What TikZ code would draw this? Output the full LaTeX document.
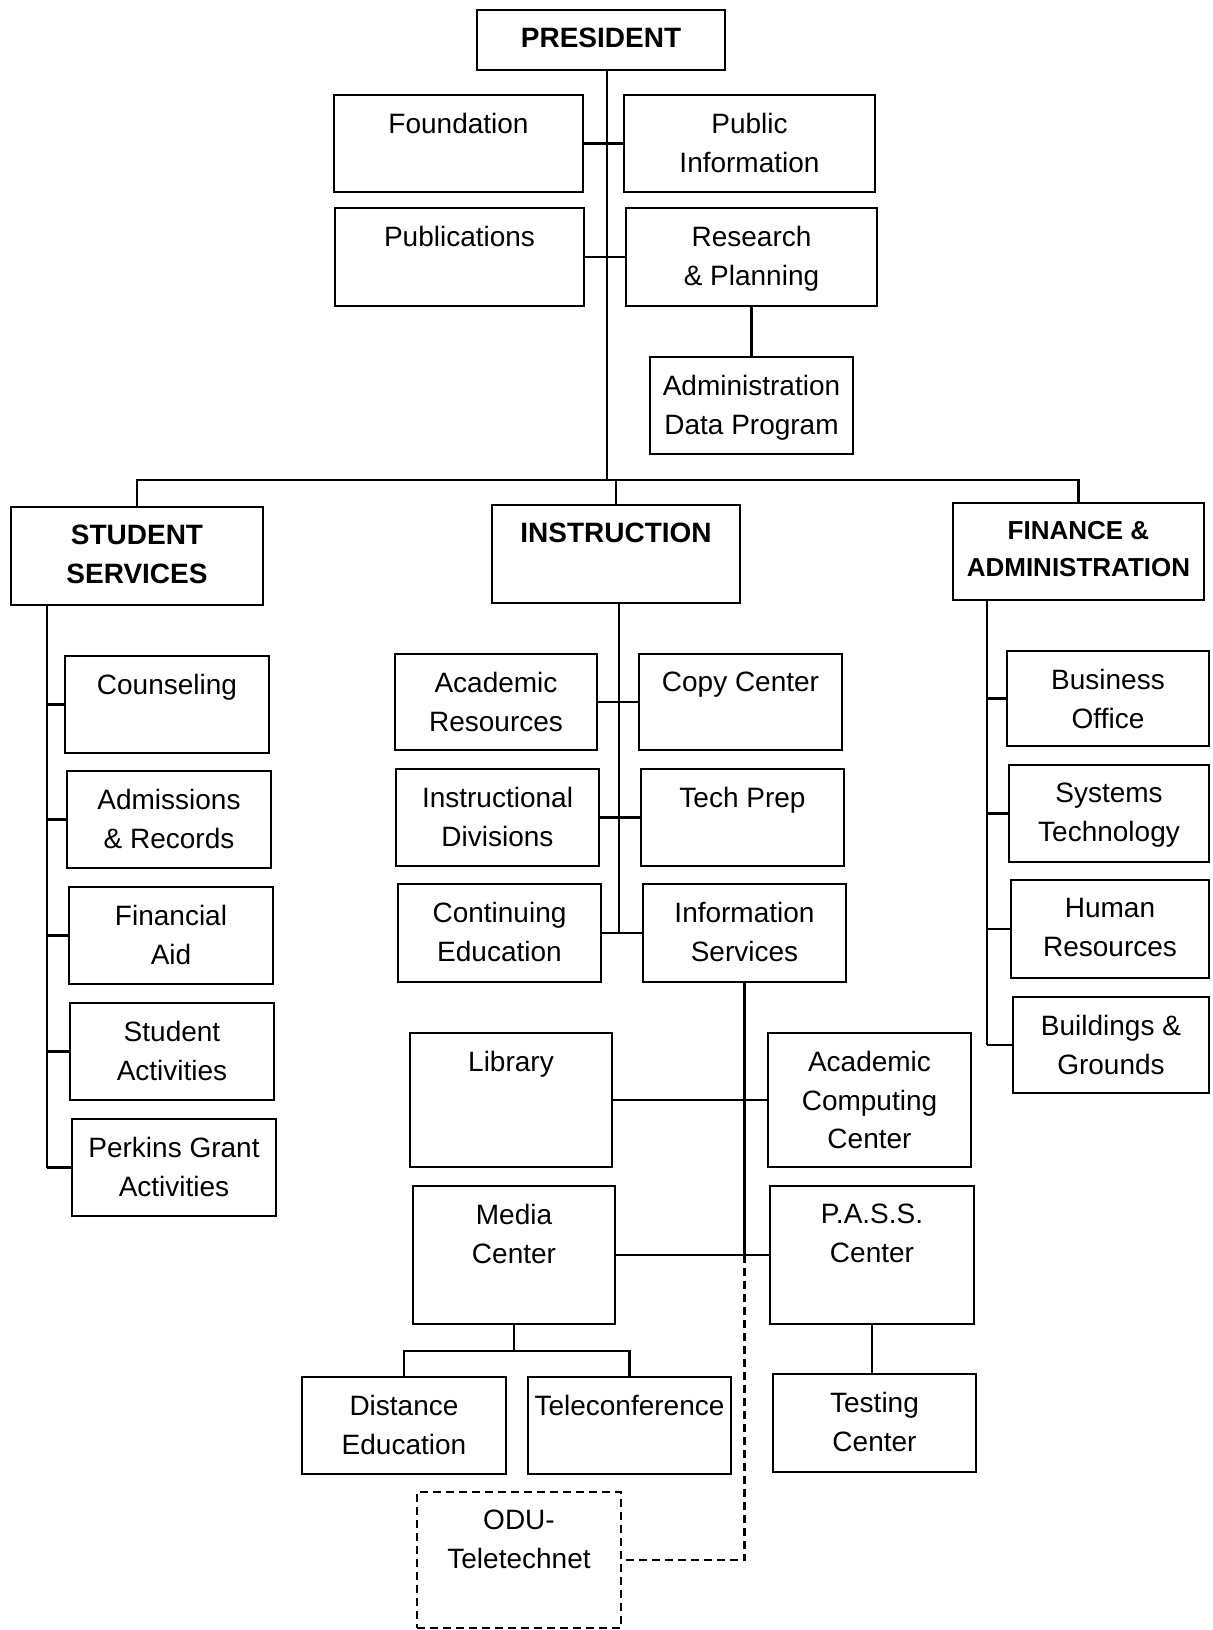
\documentclass[tikz,border=0pt]{standalone}
\usepackage{fontspec}
\setmainfont{Liberation Sans}
\usetikzlibrary{fit}
\begin{document}
\begin{tikzpicture}[x=0.5pt, y=-0.5pt,
  link/.style={line width=1.1pt},
  dlink/.style={line width=1.1pt, dash pattern=on 4pt off 2.5pt},
  box/.style={draw, line width=1.2pt, inner sep=0pt},
  dbox/.style={box, dash pattern=on 4pt off 2.5pt},
  lbl/.style={anchor=north, yshift=-9.5pt, inner sep=0pt, align=center,
    font=\fontsize{14}{19.3}\selectfont},
  hd/.style={lbl, font=\fontsize{14}{19.3}\selectfont\bfseries},
  hdn/.style={lbl, font=\fontsize{13}{18.5}\selectfont\bfseries}]

% page
\fill[white] (0,0) rectangle (1212,1630);
\useasboundingbox (0,0) rectangle (1212,1630);

% ---------- top level ----------
\node[box, fit={(477,10) (725,70)}, label={[hd]north:PRESIDENT}] (pres) {};
\node[box, fit={(334,95) (583,192)}, label={[lbl]north:Foundation}] (found) {};
\node[box, fit={(624,95) (875,192)}, label={[lbl]north:{Public\\Information}}] (pinfo) {};
\node[box, fit={(335,208) (584,306)}, label={[lbl]north:Publications}] (publ) {};
\node[box, fit={(626,208) (877,306)}, label={[lbl]north:{Research\\\& Planning}}] (rp) {};
\node[box, fit={(650,357) (853,454)}, label={[lbl]north:{Administration\\Data Program}}] (adp) {};

% ---------- divisions ----------
\node[box, fit={(11,507) (263,605)}, label={[hd]north:{STUDENT\\SERVICES}}] (ss) {};
\node[box, fit={(492,505) (740,603)}, label={[hd]north:INSTRUCTION}] (instr) {};
\node[box, fit={(953,503) (1204,600)}, label={[hdn]north:{FINANCE \&\\ADMINISTRATION}}] (fin) {};

% ---------- student services ----------
\node[box, fit={(65,656) (269,753)}, label={[lbl]north:Counseling}] (couns) {};
\node[box, fit={(67,771) (271,868)}, label={[lbl]north:{Admissions\\\& Records}}] (adm) {};
\node[box, fit={(69,887) (273,984)}, label={[lbl]north:{Financial\\Aid}}] (faid) {};
\node[box, fit={(70,1003) (274,1100)}, label={[lbl]north:{Student\\Activities}}] (sact) {};
\node[box, fit={(72,1119) (276,1216)}, label={[lbl]north:{Perkins Grant\\Activities}}] (perk) {};

% ---------- instruction ----------
\node[box, fit={(395,654) (597,750)}, label={[lbl]north:{Academic\\Resources}}] (ares) {};
\node[box, fit={(639,654) (842,750)}, label={[lbl]north:Copy Center}] (copy) {};
\node[box, fit={(396,769) (599,866)}, label={[lbl]north:{Instructional\\Divisions}}] (idiv) {};
\node[box, fit={(641,769) (844,866)}, label={[lbl]north:Tech Prep}] (tprep) {};
\node[box, fit={(398,884) (601,982)}, label={[lbl]north:{Continuing\\Education}}] (cont) {};
\node[box, fit={(643,884) (846,982)}, label={[lbl]north:{Information\\Services}}] (info) {};

% ---------- finance & administration ----------
\node[box, fit={(1007,651) (1209,746)}, label={[lbl]north:{Business\\Office}}] (bus) {};
\node[box, fit={(1009,765) (1209,862)}, label={[lbl]north:{Systems\\Technology}}] (sys) {};
\node[box, fit={(1011,880) (1209,978)}, label={[lbl]north:{Human\\Resources}}] (hr) {};
\node[box, fit={(1013,997) (1209,1093)}, label={[lbl]north:{Buildings \&\\Grounds}}] (bg) {};

% ---------- information services units ----------
\node[box, fit={(410,1033) (612,1167)}, label={[lbl]north:Library}] (lib) {};
\node[box, fit={(768,1033) (971,1167)}, label={[lbl]north:{Academic\\Computing\\Center}}] (acc) {};
\node[box, fit={(413,1186) (615,1324)}, label={[lbl]north:{Media\\Center}}] (media) {};
\node[box, fit={(770,1186) (974,1324)}, label={[lbl]north:{P.A.S.S.\\Center}}] (pass) {};
\node[box, fit={(302,1377) (506,1474)}, label={[lbl]north:{Distance\\Education}}] (dist) {};
\node[box, fit={(528,1377) (731,1474)}, label={[lbl]north:Teleconference}] (tele) {};
\node[box, fit={(773,1374) (976,1472)}, label={[lbl]north:{Testing\\Center}}] (test) {};
\node[dbox, fit={(417,1492) (621,1628)}, label={[lbl]north:{ODU-\\Teletechnet}}] (odu) {};

% ---------- connector guides ----------
\coordinate (trunk) at (607,0);
\coordinate (busline) at (0,480);
\coordinate (ssx) at (47,0);
\coordinate (inx) at (619,0);
\coordinate (fnx) at (987,0);
\coordinate (medbar) at (0,1351);
\coordinate (odubend) at (0,1560);

% president trunk and staff offices
\draw[link] (pres.south -| trunk) -- (trunk |- busline);
\draw[link] (found.east) -- (pinfo.west);
\draw[link] (publ.east) -- (rp.west);
\draw[link] (rp.south) -- (rp.south |- adp.north);

% division bus
\draw[link] (ss.north) -- (ss.north |- busline) -- (fin.north |- busline) -- (fin.north);
\draw[link] (instr.north) -- (instr.north |- busline);

% student services spine
\draw[link] (ss.south -| ssx) -- (perk.west -| ssx);
\foreach \n in {couns,adm,faid,sact,perk}
  \draw[link] (\n.west) -- (\n.west -| ssx);

% instruction spine
\draw[link] (instr.south -| inx) -- (cont.east -| inx);
\draw[link] (ares.east) -- (copy.west);
\draw[link] (idiv.east) -- (tprep.west);
\draw[link] (cont.east) -- (info.west);

% finance spine
\draw[link] (fin.south -| fnx) -- (bg.west -| fnx);
\foreach \n in {bus,sys,hr,bg}
  \draw[link] (\n.west) -- (\n.west -| fnx);

% information services line
\draw[link] (info.south) -- (info.south |- pass.west);
\draw[link] (lib.east) -- (acc.west);
\draw[link] (media.east) -- (pass.west);
\draw[dlink] (info.south |- pass.west) -- (info.south |- odubend) -- (odu.east);

% media center and P.A.S.S. children
\draw[link] (media.south) -- (media.south |- medbar);
\draw[link] (dist.north) -- (dist.north |- medbar) -- (tele.north |- medbar) -- (tele.north);
\draw[link] (pass.south) -- (pass.south |- test.north);

\end{tikzpicture}
\end{document}
